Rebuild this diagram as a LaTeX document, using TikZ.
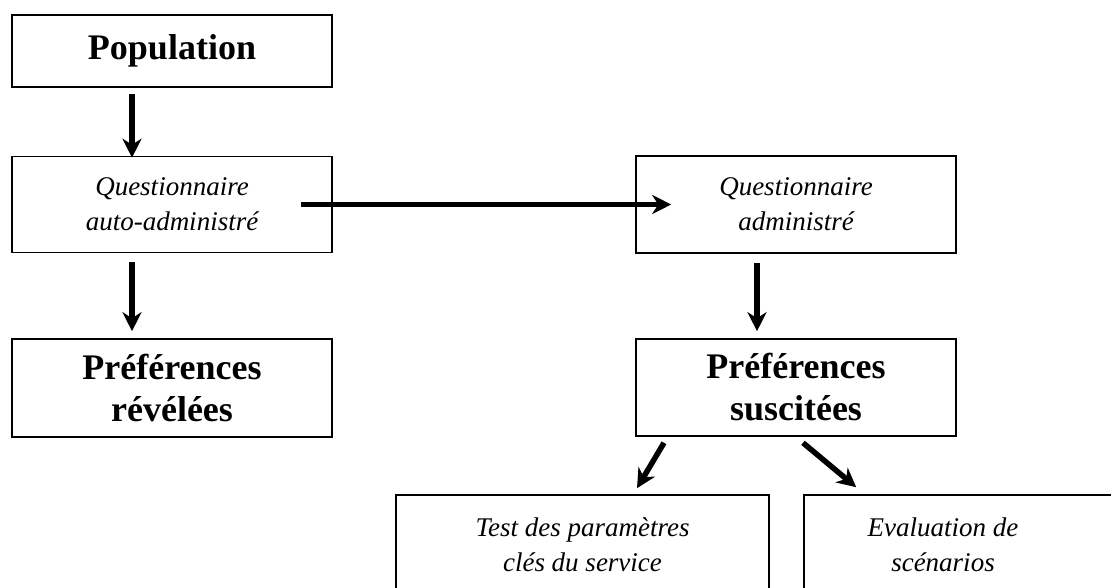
\documentclass[tikz,border=0pt]{standalone}
\usepackage{fontspec}
\setmainfont{Liberation Serif}
\usetikzlibrary{arrows.meta,calc}
\begin{document}
\begin{tikzpicture}[x=1pt,y=-1pt,
  box/.style={draw, line width=1.6pt, inner sep=0pt, align=center},
  bigtxt/.style={font=\fontsize{36}{42}\selectfont\bfseries},
  ittxt/.style={font=\fontsize{27}{35}\selectfont\itshape},
  arr/.style={line width=5.5pt, -{Stealth[length=19pt,width=19pt,inset=6pt]}}]
\path[use as bounding box] (0,0) rectangle (1111,587);
\clip (0,0) rectangle (1111,587);

\node[box, bigtxt, minimum width=320pt, minimum height=72pt] (pop) at (172,51) {Population};
\node[box, ittxt, minimum width=320pt, minimum height=96pt] (qa) at (172,204.5) {Questionnaire\\auto-administré};
\node[box, bigtxt, minimum width=320pt, minimum height=98pt] (pr) at (172,388) {Préférences\\révélées};
\node[box, ittxt, minimum width=320pt, minimum height=97pt] (qadm) at (796,204.5) {Questionnaire\\administré};
\node[box, bigtxt, minimum width=320pt, minimum height=97pt] (ps) at (796,387.5) {Préférences\\suscitées};
\node[box, ittxt, minimum width=373pt, minimum height=100pt] (test) at (582.5,545) {Test des paramètres\\clés du service};
\node[box, minimum width=326pt, minimum height=100pt] (eval) at (967,545) {};
\node[ittxt, align=center, inner sep=0pt] (evaltxt) at (943,545) {Evaluation de\\scénarios};

\draw[arr] ([xshift=-40pt,yshift=-6pt]pop.south) -- ([xshift=-40pt,yshift=-2pt]qa.north);
\draw[arr] ([xshift=-40pt,yshift=-9pt]qa.south) -- ([xshift=-40pt,yshift=7pt]pr.north);
\draw[arr] ([xshift=-32pt]qa.east) -- ([xshift=36pt]qadm.west);
\draw[arr] ([xshift=-39pt,yshift=-9pt]qadm.south) -- ([xshift=-39pt,yshift=7pt]ps.north);
\draw[arr] ([xshift=-132pt,yshift=-6pt]ps.south) -- ([xshift=54.5pt,yshift=6pt]test.north);
\draw[arr] ([xshift=7pt,yshift=-6pt]ps.south) -- ([xshift=53pt,yshift=7pt]eval.north west);
\end{tikzpicture}
\end{document}
